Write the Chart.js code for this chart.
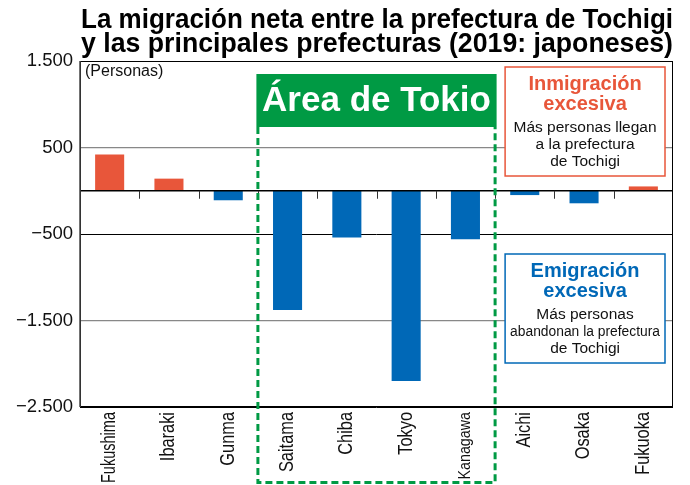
<!DOCTYPE html>
<html>
<head>
<meta charset="utf-8">
<script src="https://cdn.jsdelivr.net/npm/chart.js@4/dist/chart.umd.min.js"></script>
<style>
  html, body { margin: 0; background: #fff; }
  #wrap { width: 690px; height: 485px; }
</style>
</head>
<body>
<div id="wrap"><canvas id="chart"></canvas></div>
<script>
// datos (personas)
const categories = ['Fukushima', 'Ibaraki', 'Gunma', 'Saitama', 'Chiba', 'Tokyo', 'Kanagawa', 'Aichi', 'Osaka', 'Fukuoka'];
const netMigration = [420, 140, -110, -1380, -540, -2200, -560, -50, -145, 50];
const yTicks = [1500, 500, -500, -1500, -2500];
const yTickLabels = ['1.500', '500', '\u2212500', '\u22121.500', '\u22122.500'];
const titleLines = ['La migración neta entre la prefectura de Tochigi', 'y las principales prefecturas (2019: japoneses)'];
const tokyoFirst = 3, tokyoLast = 6;   // Saitama .. Kanagawa
const inTitle = ['Inmigración', 'excesiva'];
const inText = ['Más personas llegan', 'a la prefectura', 'de Tochigi'];
const outTitle = ['Emigración', 'excesiva'];
const outText = ['Más personas', 'abandonan la prefectura', 'de Tochigi'];

const RED = '#e8563a', BLUE = '#0068b7', GREEN = '#009a44';
const FONT = "'Liberation Sans', Arial, sans-serif";

function edge(x, i) {
  if (i <= 0) return x.left;
  if (i >= categories.length) return x.right;
  return (x.getPixelForValue(i - 1) + x.getPixelForValue(i)) / 2;
}

// texto algo estrecho, como en el original
function narrowText(ctx, t, px, py, squeeze, max) {
  const w = ctx.measureText(t).width;
  ctx.fillText(t, px, py, Math.min(w * squeeze, max));
}

function noteBox(ctx, left, top, w, h, color, head, body) {
  ctx.fillStyle = '#fff';
  ctx.fillRect(left, top, w, h);
  ctx.strokeStyle = color;
  ctx.lineWidth = 1.5;
  ctx.strokeRect(left, top, w, h);
  const cx = left + w / 2;
  ctx.textAlign = 'center';
  ctx.textBaseline = 'alphabetic';
  ctx.fillStyle = color;
  ctx.font = 'bold 20px ' + FONT;
  head.forEach((t, i) => ctx.fillText(t, cx, top + 23 + i * 19.5));
  ctx.fillStyle = '#111';
  ctx.font = '15.5px ' + FONT;
  body.forEach((t, i) => ctx.fillText(t, cx, top + 65 + i * 16.8, w - 10));
}

const overlay = {
  id: 'overlay',
  afterDatasetsDraw(chart) {
    const { ctx, chartArea: a, scales: { x, y } } = chart;
    const y0 = y.getPixelForValue(0);
    ctx.save();

    // titulo
    ctx.fillStyle = '#000';
    ctx.font = 'bold 27px ' + FONT;
    ctx.textAlign = 'left';
    ctx.textBaseline = 'alphabetic';
    titleLines.forEach((t, i) => narrowText(ctx, t, a.left + 1, 28 + i * 24, 1, 592));

    // etiquetas de categoria, giradas
    ctx.fillStyle = '#111';
    ctx.textAlign = 'right';
    ctx.textBaseline = 'middle';
    categories.forEach((c, i) => {
      ctx.save();
      ctx.translate(x.getPixelForValue(i), a.bottom + 5);
      ctx.rotate(-Math.PI / 2);
      ctx.font = (c === 'Kanagawa' ? 17 : 19.5) + 'px ' + FONT;
      narrowText(ctx, c, 0, 0, 0.84, 71);
      ctx.restore();
    });

    // linea cero y marcas
    ctx.strokeStyle = '#000';
    ctx.lineWidth = 1.5;
    ctx.beginPath();
    ctx.moveTo(a.left, y0);
    ctx.lineTo(a.right, y0);
    ctx.stroke();
    ctx.lineWidth = 1;
    ctx.strokeStyle = '#333';
    for (let i = 1; i < categories.length; i++) {
      const px = Math.round(edge(x, i)) + 0.5;
      ctx.beginPath();
      ctx.moveTo(px, y0);
      ctx.lineTo(px, y0 + 8);
      ctx.stroke();
    }

    // marco
    ctx.strokeStyle = '#000';
    ctx.lineWidth = 1;
    ctx.strokeRect(a.left + 0.5, a.top + 0.5, a.width - 1, a.height - 1);
    ctx.strokeStyle = '#444';
    ctx.lineWidth = 1.5;
    ctx.beginPath();
    ctx.moveTo(a.left, a.top);
    ctx.lineTo(a.left, a.bottom);
    ctx.stroke();

    // Área de Tokio
    const l = edge(x, tokyoFirst), r = edge(x, tokyoLast + 1);
    const labTop = a.top + 13, labH = 53;
    ctx.strokeStyle = GREEN;
    ctx.lineWidth = 3;
    ctx.setLineDash([7, 4]);
    ctx.beginPath();
    ctx.moveTo(l, labTop + labH);
    ctx.lineTo(l, chart.height - 2.5);
    ctx.lineTo(r, chart.height - 2.5);
    ctx.lineTo(r, labTop + labH);
    ctx.stroke();
    ctx.setLineDash([]);
    ctx.fillStyle = GREEN;
    ctx.fillRect(l - 1.5, labTop, r - l + 3, labH);
    ctx.fillStyle = '#fff';
    ctx.font = 'bold 35px ' + FONT;
    ctx.textAlign = 'center';
    ctx.textBaseline = 'middle';
    ctx.fillText('Área de Tokio', (l + r) / 2, labTop + labH / 2 + 1);

    // cuadros explicativos
    const bl = r + 10, bw = a.right - 8 - bl;
    noteBox(ctx, bl, a.top + 6, bw, 109, RED, inTitle, inText);
    noteBox(ctx, bl, a.top + 193, bw, 109, BLUE, outTitle, outText);

    // unidad
    ctx.fillStyle = '#111';
    ctx.font = '16px ' + FONT;
    ctx.textAlign = 'left';
    ctx.textBaseline = 'alphabetic';
    ctx.fillText('(Personas)', a.left + 5, a.top + 15);

    ctx.restore();
  }
};

new Chart(document.getElementById('chart'), {
  type: 'bar',
  data: {
    labels: categories,
    datasets: [{
      data: netMigration,
      backgroundColor: netMigration.map(v => v >= 0 ? RED : BLUE),
      barPercentage: 0.49,
      categoryPercentage: 1,
    }]
  },
  options: {
    responsive: true,
    maintainAspectRatio: false,
    animation: false,
    layout: { padding: { top: 61, right: 17 } },
    plugins: {
      legend: { display: false },
      tooltip: { enabled: false },
    },
    scales: {
      x: {
        grid: { display: false },
        border: { display: false },
        ticks: { display: false },
        afterFit: s => { s.height = 78; },
      },
      y: {
        min: -2500, max: 1500,
        afterFit: s => { s.width = 80; },
        afterBuildTicks: s => { s.ticks = yTicks.map(v => ({ value: v })); },
        border: { display: false },
        grid: {
          drawTicks: false,
          color: c => (c.tick && (c.tick.value === 500 || c.tick.value === -1500)) ? '#888' : '#000',
          lineWidth: c => (c.tick && (c.tick.value === 500 || c.tick.value === -1500)) ? 1.3 : 1,
        },
        ticks: {
          color: '#111',
          padding: 7,
          font: { family: FONT, size: 18.5 },
          callback: v => yTickLabels[yTicks.indexOf(v)],
        },
      },
    },
  },
  plugins: [overlay],
});
</script>
</body>
</html>
